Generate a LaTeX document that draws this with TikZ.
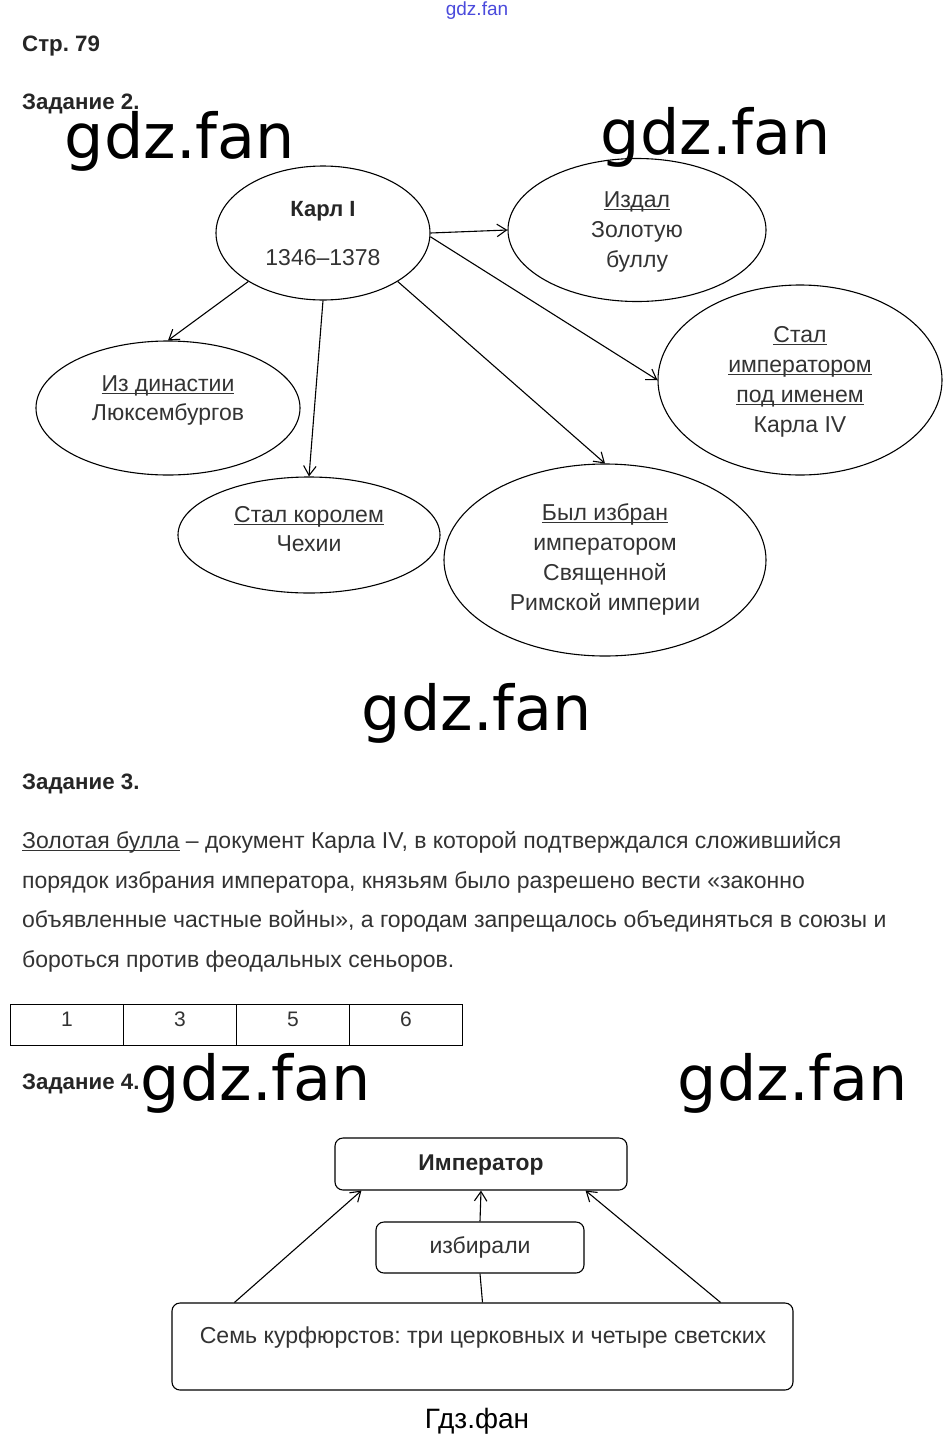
\documentclass[tikz,border=0pt]{standalone}
\usepackage{fontspec}
\setmainfont{Liberation Sans}
\newfontfamily\wmfont{DejaVu Sans}
\usetikzlibrary{shapes.geometric,arrows.meta}
\definecolor{txtc}{HTML}{333333}
\definecolor{wmblue}{HTML}{4A4ADC}
\frenchspacing
\newcommand\ulx[1]{\leavevmode\setbox0\hbox{#1}\rlap{\rule[-2.6pt]{\wd0}{0.9pt}}\box0\relax}
\tikzset{
  ell/.style={draw, ellipse, line width=1.1pt, inner sep=0pt},
  etxt/.style={font=\fontsize{23}{28}\selectfont, text=txtc, inner sep=0pt, anchor=base},
  head/.style={font=\bfseries\fontsize{22.3}{26}\selectfont, text=black!85, inner sep=0pt, anchor=base west},
  ptxt/.style={font=\fontsize{23}{26}\selectfont, text=txtc, inner sep=0pt, anchor=base west},
  wm/.style={font=\wmfont\fontsize{62}{70}\selectfont, text=black, inner sep=0pt, anchor=base},
  arr/.style={line width=1.1pt, -{Straight Barb[length=9.5pt,width=12.5pt,line width=1.1pt]}},
  rbox/.style={draw, rounded corners=8pt, line width=1.1pt, inner sep=0pt},
  cell/.style={draw, line width=0.9pt, minimum width=113pt, minimum height=41pt, inner sep=0pt},
}
\begin{document}
\begin{tikzpicture}[x=1pt,y=-1pt]
\useasboundingbox[fill=white] (0,0) rectangle (951,1438);

% top small watermark
\node[font=\fontsize{19}{22}\selectfont, text=wmblue, inner sep=0pt] (wtop) at (477,11) {gdz.fan};

% headings
\node[head] (h0) at (22,51) {Стр. 79};
\node[head] (h2) at (22,109) {Задание 2.};

% ellipses
\node[ell, minimum width=214pt, minimum height=134pt] (karl) at (323,233) {};
\node[ell, minimum width=258pt, minimum height=143pt] (izd) at (637,230) {};
\node[ell, minimum width=284pt, minimum height=190pt] (imp) at (800,380) {};
\node[ell, minimum width=264pt, minimum height=134pt] (din) at (168,408) {};
\node[ell, minimum width=262pt, minimum height=116pt] (kor) at (309,535) {};
\node[ell, minimum width=322pt, minimum height=192pt] (byl) at (605,560) {};

% ellipse texts
\node[etxt, font=\bfseries\fontsize{22}{26}\selectfont, text=black!85] (k1) at (323,216) {Карл I};
\node[etxt] (k2) at (323,265) {1346–1378};

\node[etxt] (i1) at (637,207) {\ulx{Издал}};
\node[etxt] (i2) at (637,237) {Золотую};
\node[etxt] (i3) at (637,267) {буллу};

\node[etxt] (m1) at (800,342) {\ulx{Стал}};
\node[etxt] (m2) at (800,372) {\ulx{императором}};
\node[etxt] (m3) at (800,402) {\ulx{под именем}};
\node[etxt] (m4) at (800,432) {Карла IV};

\node[etxt] (d1) at (168,391.5) {\ulx{Из династии}};
\node[etxt] (d2) at (168,420.5) {Люксембургов};

\node[etxt] (c1) at (309,522.5) {\ulx{Стал королем}};
\node[etxt] (c2) at (309,551.5) {Чехии};

\node[etxt] (b1) at (605,520) {\ulx{Был избран}};
\node[etxt] (b2) at (605,550) {императором};
\node[etxt] (b3) at (605,580) {Священной};
\node[etxt] (b4) at (605,610) {Римской империи};

% arrows
\draw[arr] (karl.east) -- (izd.west);
\draw[arr] (karl.-2) -- (imp.west);
\draw[arr] (karl.-33.7) -- (byl.north);
\draw[arr] (karl.213.7) -- (din.north);
\draw[arr] (karl.south) -- (kor.north);

% watermarks
\node[wm] (w1) at (180,158) {gdz.fan};
\node[wm] (w2) at (716,154) {gdz.fan};
\node[wm] (w3) at (477,730) {gdz.fan};

% Task 3
\node[head] (h3) at (22,789) {Задание 3.};
\node[ptxt] (p1) at (22,848) {\ulx{Золотая булла} – документ Карла IV, в которой подтверждался сложившийся};
\node[ptxt] (p2) at (22,888) {порядок избрания императора, князьям было разрешено вести «законно};
\node[ptxt] (p3) at (22,927.5) {объявленные частные войны», а городам запрещалось объединяться в союзы и};
\node[ptxt] (p4) at (22,967) {бороться против феодальных сеньоров.};

% table
\node[cell, anchor=north west] (t1) at (10,1004) {};
\node[cell, anchor=north west] (t2) at (123,1004) {};
\node[cell, anchor=north west] (t3) at (236,1004) {};
\node[cell, anchor=north west] (t4) at (349,1004) {};
\foreach \n/\v in {t1/1,t2/3,t3/5,t4/6}{
  \node[font=\fontsize{21}{24}\selectfont, text=txtc, inner sep=0pt, anchor=base] at ([yshift=-22pt]\n.north) {\v};
}

% Task 4
\node[head] (h4) at (22,1089) {Задание 4.};
\node[wm] (w4) at (256,1100) {gdz.fan};
\node[wm] (w5) at (793,1100) {gdz.fan};

\node[rbox, minimum width=292pt, minimum height=52pt] (emp) at (481,1164) {};
\node[etxt, font=\bfseries\fontsize{22.8}{26}\selectfont, text=black!85] (embt) at (481,1170) {Император};
\node[rbox, minimum width=208pt, minimum height=51pt] (izb) at (480,1247.5) {};
\node[etxt, font=\fontsize{23}{26}\selectfont] (izbt) at (480,1253) {избирали};
\node[rbox, minimum width=621pt, minimum height=87pt] (sem) at (482.5,1346.5) {};
\node[etxt, font=\fontsize{23.1}{26}\selectfont] (semt) at (483,1343) {Семь курфюрстов: три церковных и четыре светских};

\draw[arr] ([xshift=63pt]sem.north west) -- ([xshift=27pt]emp.south west);
\draw[arr] ([xshift=-73pt]sem.north east) -- ([xshift=-42pt]emp.south east);
\draw[arr] (izb.north) -- (emp.south);
\draw[line width=1.1pt] (sem.north) -- (izb.south);

\node[font=\fontsize{28}{30}\selectfont, text=black, inner sep=0pt, anchor=base] (gdz) at (477,1428) {Гдз.фан};
\end{tikzpicture}
\end{document}
